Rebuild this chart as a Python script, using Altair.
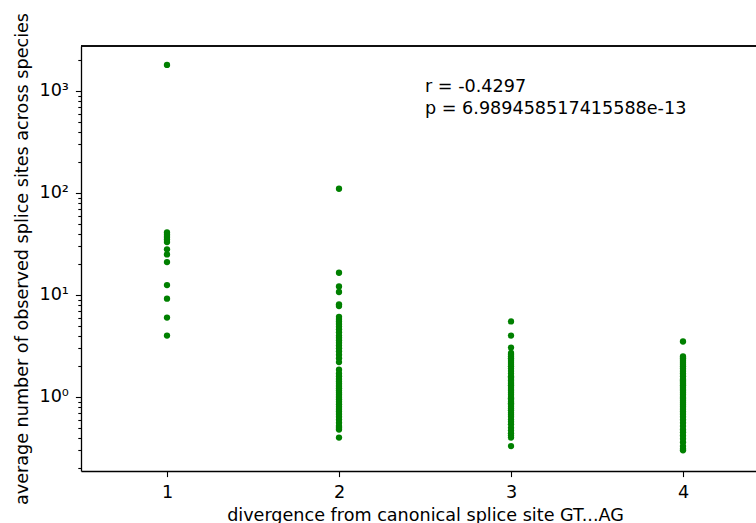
import altair as alt
import pandas as pd

# divergence class 1..4 and observed average counts
div1 = [1800, 41, 39, 37, 35, 33, 28, 25, 21, 12.5, 9.2, 6.0, 4.0]
div2 = [110, 16.5, 12.1, 10.7, 8.1, 7.8, 6.1, 5.8, 5.5, 5.2, 4.9, 4.6, 4.3, 4.0,
        3.8, 3.6, 3.4, 3.2, 3.0, 2.8, 2.6, 2.4, 2.2, 1.85, 1.7, 1.6, 1.5, 1.42,
        1.35, 1.28, 1.22, 1.16, 1.1, 1.05, 1.0, 0.95, 0.9, 0.85, 0.8, 0.76,
        0.72, 0.68, 0.64, 0.6, 0.56, 0.52, 0.5, 0.48, 0.4]
div3 = [5.5, 4.0, 3.05, 2.7, 2.6, 2.5, 2.4, 2.3, 2.2, 2.1, 2.0, 1.9, 1.8, 1.7,
        1.6, 1.55, 1.5, 1.45, 1.4, 1.35, 1.3, 1.25, 1.2, 1.15, 1.1, 1.05, 1.0,
        0.97, 0.94, 0.9, 0.87, 0.84, 0.8, 0.77, 0.74, 0.7, 0.67, 0.64, 0.6,
        0.57, 0.54, 0.5, 0.47, 0.44, 0.42, 0.4, 0.33]
div4 = [3.5, 2.5, 2.4, 2.3, 2.2, 2.1, 2.0, 1.9, 1.8, 1.7, 1.6, 1.5, 1.45, 1.4,
        1.35, 1.3, 1.25, 1.2, 1.15, 1.1, 1.05, 1.0, 0.96, 0.92, 0.88, 0.84, 0.8,
        0.76, 0.72, 0.68, 0.64, 0.6, 0.56, 0.52, 0.48, 0.45, 0.42, 0.39, 0.36,
        0.33, 0.31, 0.3]

x_ticks = [1, 2, 3, 4]
y_major = [1, 10, 100, 1000]
y_minor = [0.2, 0.3, 0.4, 0.5, 0.6, 0.7, 0.8, 0.9,
           2, 3, 4, 5, 6, 7, 8, 9,
           20, 30, 40, 50, 60, 70, 80, 90,
           200, 300, 400, 500, 600, 700, 800, 900, 2000]

ann_text = ["r = -0.4297", "p = 6.989458517415588e-13"]
ann_x = [2.5, 2.5]
ann_y = [977, 600]

rows = []
for d, vals in zip(x_ticks, [div1, div2, div3, div4]):
    for v in vals:
        rows.append({"div": d, "avg": v})
df = pd.DataFrame(rows)
ann = pd.DataFrame({"x": ann_x, "y": ann_y, "t": ann_text})

FONT = "DejaVu Sans"
FS = 17.6

xscale = alt.Scale(domain=[0.5, 4.4244], nice=False, zero=False)
yscale = alt.Scale(type="log", domain=[0.188, 2760], nice=False)

label_expr = ("abs(datum.value-1)<1e-6 ? '10⁰' : abs(datum.value-10)<1e-6 ? '10¹' : "
              "abs(datum.value-100)<1e-6 ? '10²' : abs(datum.value-1000)<1e-6 ? '10³' : ''")
major_test = ("abs(datum.value-1)<1e-6 || abs(datum.value-10)<1e-6 || "
              "abs(datum.value-100)<1e-6 || abs(datum.value-1000)<1e-6")

axis_common = dict(domainColor="black", domainWidth=1.3, tickColor="black", tickWidth=1.1,
                   labelColor="black", titleColor="black", labelFont=FONT, titleFont=FONT,
                   labelFontSize=FS, titleFontSize=FS, titleFontWeight="normal", grid=False)

points = alt.Chart(df).mark_circle(size=40, color="#008000", opacity=1).encode(
    x=alt.X("div:Q", scale=xscale,
            axis=alt.Axis(values=x_ticks, format="d", title="divergence from canonical splice site GT...AG",
                          titleX=344, titleY=49, titleBaseline="alphabetic", titleAlign="center",
                          tickSize=5.6, labelPadding=7, **axis_common)),
    y=alt.Y("avg:Q", scale=yscale,
            axis=alt.Axis(values=y_major + y_minor, labelExpr=label_expr,
                          title="average number of observed splice sites across species",
                          titleX=-59, titleY=212.5, titleAngle=-90, titleBaseline="middle",
                          titleAlign="center",
                          tickSize={"condition": {"test": major_test, "value": 5.6}, "value": 3.2},
                          labelPadding=7, labelOverlap=False, **axis_common)),
)

text = alt.Chart(ann).mark_text(align="left", baseline="alphabetic", font=FONT,
                                fontSize=FS, color="black").encode(
    x=alt.X("x:Q", scale=xscale),
    y=alt.Y("y:Q", scale=yscale),
    text="t:N",
)

top = alt.Chart(ann).mark_rule(color="black", strokeWidth=1.3).encode(
    x=alt.value(0), x2=alt.value(675), y=alt.value(0)
)

chart = alt.layer(points, text, top).properties(
    width=675, height=425,
    autosize=alt.AutoSizeParams(type="none"),
    padding={"left": 81, "top": 46, "right": 0, "bottom": 52},
    background="white",
).configure_view(stroke=None)

chart.save("out.html", embed_options={"renderer": "svg", "actions": False})
